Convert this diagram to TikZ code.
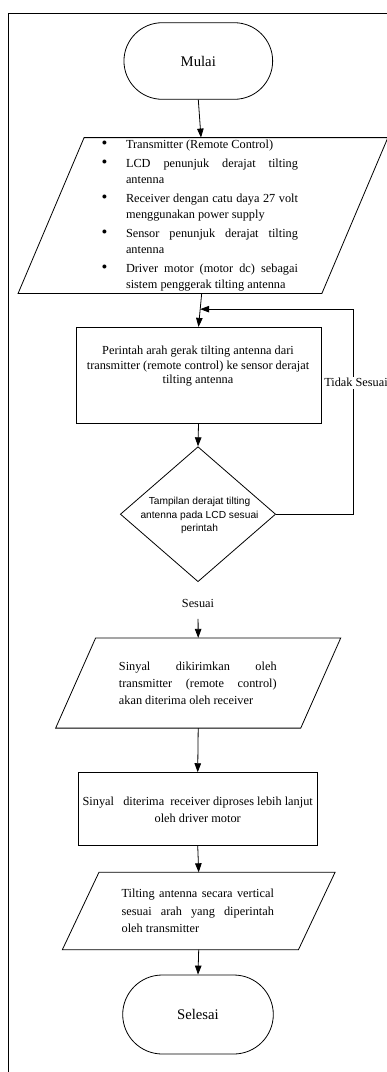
\documentclass[tikz,border=0pt]{standalone}
\usepackage{fontspec}
\setmainfont{Liberation Serif}
\newfontfamily\sansA{Liberation Sans}
\usetikzlibrary{arrows.meta,shapes.geometric,shapes.misc,calc}
\newcommand\drawpara[2]{\draw ([xshift=#2]#1.north west) -- ([xshift=#2]#1.north east) -- ([xshift=-#2]#1.south east) -- ([xshift=-#2]#1.south west) -- cycle;}
\newcommand\bigbul{\raisebox{-0.5pt}{\scalebox{1.35}{\textbullet}}}
\begin{document}
\begin{tikzpicture}[x=1pt,y=-1pt,line width=0.8pt,
  arr/.style={-{Triangle[length=9pt,width=6.5pt]}},
  term/.style={draw,rounded rectangle,inner sep=0,font=\fontsize{14.7}{17}\selectfont},
  procbox/.style={draw,rectangle,inner sep=0},
  planebox/.style={rectangle,inner sep=0},
  txt/.style={inner sep=0,font=\fontsize{12.3}{14.4}\selectfont}]
\useasboundingbox (0,0) rectangle (387,1072);
\draw (8,1072) -- (8,13) -- (387,13);
% shapes
\node[term,minimum width=148.7pt,minimum height=76.6pt] (mulai) at (198.3,61) {Mulai};
\node[planebox,minimum width=303pt,minimum height=155pt] (p1) at (203,215.5) {};
\drawpara{p1}{33pt}
\node[procbox,minimum width=245pt,minimum height=96pt] (box1) at (198.5,375.3) {};
\node[draw,diamond,inner sep=0,minimum width=155.3pt,minimum height=135pt] (dec) at (198,514.2) {};
\node[planebox,minimum width=244.3pt,minimum height=89.4pt] (p2) at (198.2,683) {};
\drawpara{p2}{20pt}
\node[procbox,minimum width=239pt,minimum height=72.3pt] (box2) at (197.7,808.8) {};
\node[planebox,minimum width=235.3pt,minimum height=76.6pt] (p3) at (198.7,911) {};
\drawpara{p3}{18.3pt}
\node[term,minimum width=150.6pt,minimum height=79pt] (selesai) at (198,1014.5) {Selesai};
% texts
\node[txt] (p1t) at (199,215.5) {\begin{minipage}{198pt}\fontsize{12.3}{16.3}\selectfont
\begin{list}{\bigbul}{\setlength\leftmargin{26pt}\setlength\labelwidth{7.5pt}\setlength\labelsep{18.5pt}\setlength\itemsep{2.4pt}\setlength\topsep{0pt}\setlength\parsep{0pt}\setlength\partopsep{0pt}}
\item Transmitter (Remote Control)
\item \makebox[\linewidth][s]{LCD penunjuk derajat tilting}\\antenna
\item \makebox[\linewidth][s]{Receiver dengan catu daya 27 volt}\\menggunakan power supply
\item \makebox[\linewidth][s]{Sensor penunjuk derajat tilting}\\antenna
\item \makebox[\linewidth][s]{Driver motor (motor dc) sebagai}\\sistem penggerak tilting antenna
\end{list}
\end{minipage}};
\node[txt,align=center] (b1t) at (198,366.2) {Perintah arah gerak tilting antenna dari\\transmitter (remote control) ke sensor derajat\\tilting antenna};
\node[txt,align=center,font=\sansA\fontsize{10.2}{13.8}\selectfont] (dect) at (199.5,515.5) {Tampilan derajat tilting\\antenna pada LCD sesuai\\perintah};
\node[txt] (sesuai) at (198,603.3) {Sesuai};
\node[txt] (p2t) at (197.8,683.3) {\begin{minipage}{157.7pt}\fontsize{12.3}{16.7}\selectfont
\makebox[\linewidth][s]{Sinyal dikirimkan oleh}\\
\makebox[\linewidth][s]{transmitter (remote control)}\\
akan diterima oleh receiver
\end{minipage}};
\node[txt,align=center,font=\fontsize{12.3}{17.3}\selectfont] (b2t) at (197.7,809.7) {Sinyal\ \ \ diterima\ \ receiver diproses lebih lanjut\\oleh driver motor};
\node[txt] (p3t) at (197.8,910.8) {\begin{minipage}{152.3pt}\fontsize{12.3}{17.5}\selectfont
\makebox[\linewidth][s]{Tilting antenna secara vertical}\\
\makebox[\linewidth][s]{sesuai arah yang diperintah}\\
oleh transmitter
\end{minipage}};
% connectors
\draw[arr] (mulai.south) -- ([xshift=-2pt]p1.north);
\draw[arr] ([xshift=-1.3pt]p1.south) -- (box1.north);
\coordinate (join) at ($([xshift=-1.3pt]p1.south)!0.47!(box1.north)$);
\draw[arr] (box1.south) -- (dec.north);
\draw[arr] (dec.east) -- (353,514.2) |- (join);
\node[txt,fill=white,inner sep=1.5pt] (tidak) at (356,382.7) {Tidak Sesuai};
\draw[arr,shorten <=11pt] (sesuai.south) -- (p2.north);
\draw[arr] (p2.south) -- (box2.north);
\draw[arr] (box2.south) -- (p3.north);
\draw[arr] (p3.south) -- (selesai.north);
\end{tikzpicture}
\end{document}
